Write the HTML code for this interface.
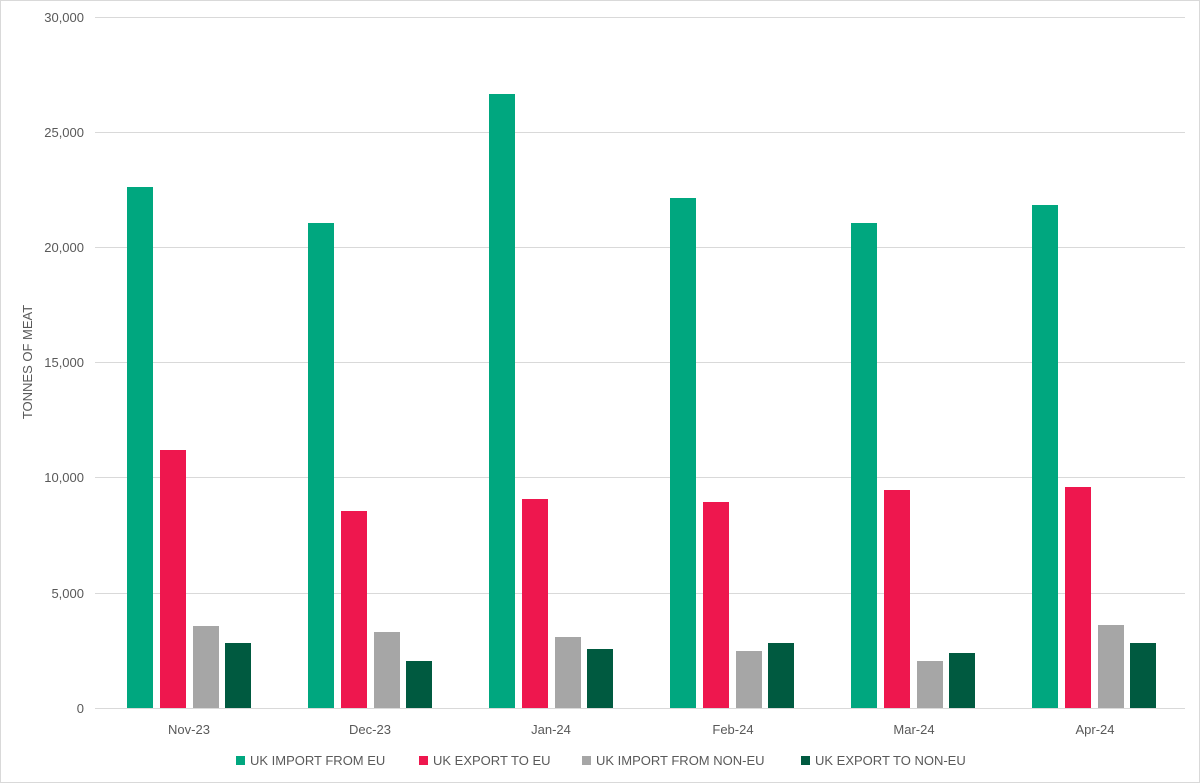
<!DOCTYPE html>
<html><head><meta charset="utf-8"><style>
html,body{margin:0;padding:0;background:#fff;}
svg{display:block;font-family:"Liberation Sans",sans-serif;}
</style></head><body>
<svg width="1200" height="783" viewBox="0 0 1200 783" xmlns="http://www.w3.org/2000/svg">
<rect x="0.5" y="0.5" width="1199" height="782" fill="#fff" stroke="#d9d9d9"/>
<g stroke="#d9d9d9" stroke-width="1">
<line x1="95" x2="1185" y1="17.5" y2="17.5"/>
<line x1="95" x2="1185" y1="132.5" y2="132.5"/>
<line x1="95" x2="1185" y1="247.5" y2="247.5"/>
<line x1="95" x2="1185" y1="362.5" y2="362.5"/>
<line x1="95" x2="1185" y1="477.5" y2="477.5"/>
<line x1="95" x2="1185" y1="593.5" y2="593.5"/>
<line x1="95" x2="1185" y1="708.5" y2="708.5"/>
</g>
<g font-size="13" fill="#595959" text-anchor="end">
<text x="84" y="22">30,000</text>
<text x="84" y="137">25,000</text>
<text x="84" y="252">20,000</text>
<text x="84" y="367">15,000</text>
<text x="84" y="482">10,000</text>
<text x="84" y="598">5,000</text>
<text x="84" y="713">0</text>
</g>
<text transform="translate(32,362) rotate(-90)" font-size="13" fill="#595959" text-anchor="middle">TONNES OF MEAT</text>
<g>
<!-- Nov -->
<rect x="127" y="187" width="26" height="521" fill="#00a77f"/>
<rect x="160" y="450" width="26" height="258" fill="#ee174e"/>
<rect x="193" y="626" width="26" height="82" fill="#a6a6a6"/>
<rect x="225" y="643" width="26" height="65" fill="#005a40"/>
<!-- Dec -->
<rect x="308" y="223" width="26" height="485" fill="#00a77f"/>
<rect x="341" y="511" width="26" height="197" fill="#ee174e"/>
<rect x="374" y="632" width="26" height="76" fill="#a6a6a6"/>
<rect x="406" y="661" width="26" height="47" fill="#005a40"/>
<!-- Jan -->
<rect x="489" y="94" width="26" height="614" fill="#00a77f"/>
<rect x="522" y="499" width="26" height="209" fill="#ee174e"/>
<rect x="555" y="637" width="26" height="71" fill="#a6a6a6"/>
<rect x="587" y="649" width="26" height="59" fill="#005a40"/>
<!-- Feb -->
<rect x="670" y="198" width="26" height="510" fill="#00a77f"/>
<rect x="703" y="502" width="26" height="206" fill="#ee174e"/>
<rect x="736" y="651" width="26" height="57" fill="#a6a6a6"/>
<rect x="768" y="643" width="26" height="65" fill="#005a40"/>
<!-- Mar -->
<rect x="851" y="223" width="26" height="485" fill="#00a77f"/>
<rect x="884" y="490" width="26" height="218" fill="#ee174e"/>
<rect x="917" y="661" width="26" height="47" fill="#a6a6a6"/>
<rect x="949" y="653" width="26" height="55" fill="#005a40"/>
<!-- Apr -->
<rect x="1032" y="205" width="26" height="503" fill="#00a77f"/>
<rect x="1065" y="487" width="26" height="221" fill="#ee174e"/>
<rect x="1098" y="625" width="26" height="83" fill="#a6a6a6"/>
<rect x="1130" y="643" width="26" height="65" fill="#005a40"/>
</g>
<g font-size="13" fill="#595959" text-anchor="middle">
<text x="189" y="734">Nov-23</text>
<text x="370" y="734">Dec-23</text>
<text x="551" y="734">Jan-24</text>
<text x="733" y="734">Feb-24</text>
<text x="914" y="734">Mar-24</text>
<text x="1095" y="734">Apr-24</text>
</g>
<g font-size="13" fill="#595959">
<rect x="236" y="756" width="9" height="9" fill="#00a77f"/><text x="250" y="765">UK IMPORT FROM EU</text>
<rect x="419" y="756" width="9" height="9" fill="#ee174e"/><text x="433" y="765">UK EXPORT TO EU</text>
<rect x="582" y="756" width="9" height="9" fill="#a6a6a6"/><text x="596" y="765">UK IMPORT FROM NON-EU</text>
<rect x="801" y="756" width="9" height="9" fill="#005a40"/><text x="815" y="765">UK EXPORT TO NON-EU</text>
</g>
</svg>
</body></html>
